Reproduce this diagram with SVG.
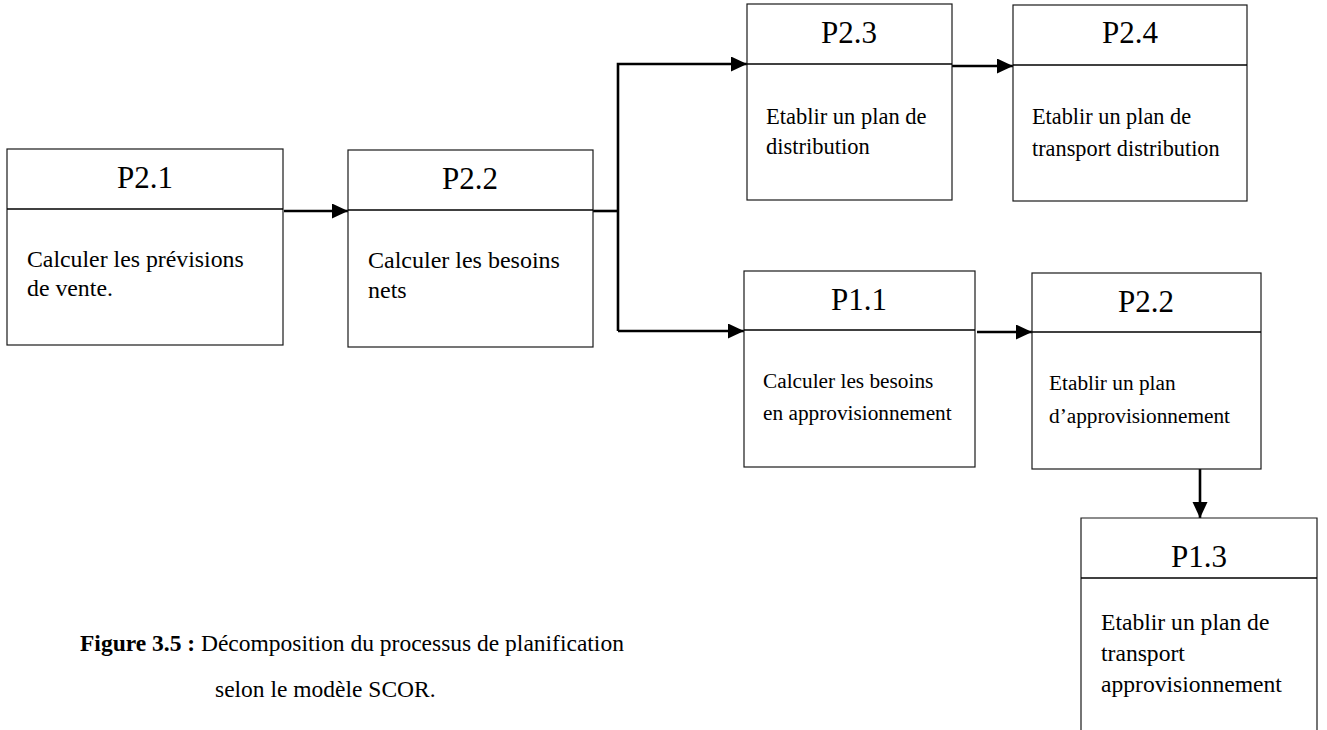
<svg xmlns="http://www.w3.org/2000/svg" width="1327" height="730" viewBox="0 0 1327 730">
  <style>
    .box { fill: #ffffff; stroke: #1a1a1a; stroke-width: 1.2; }
    .div { stroke: #000000; stroke-width: 1.4; }
    .title { font-family: "Liberation Serif", "Times New Roman", serif; font-size: 31px; fill: #000; text-anchor: middle; }
    .body { font-family: "Liberation Serif", "Times New Roman", serif; font-size: 22.5px; fill: #000; }
    .cap { font-family: "Liberation Serif", "Times New Roman", serif; font-size: 23.5px; fill: #000; }
    .link { fill: none; stroke: #000; stroke-width: 2.6; }
  </style>
  <defs>
    <marker id="arrow" markerUnits="userSpaceOnUse" markerWidth="17" markerHeight="16" refX="16" refY="7.5" orient="auto">
      <path d="M0,0 L16,7.5 L0,15 z" fill="#000"/>
    </marker>
  </defs>
  <rect width="1327" height="730" fill="#ffffff"/>

  <g id="connectors">
    <line class="link" x1="284" y1="211" x2="348" y2="211" marker-end="url(#arrow)"/>
    <polyline class="link" points="593,211 618,211"/>
    <polyline class="link" points="618,331 618,64 747,64" marker-end="url(#arrow)"/>
    <polyline class="link" points="618,331 744,331" marker-end="url(#arrow)"/>
    <line class="link" x1="952" y1="66" x2="1013" y2="66" marker-end="url(#arrow)"/>
    <line class="link" x1="977" y1="332" x2="1032" y2="332" marker-end="url(#arrow)"/>
    <line class="link" x1="1200" y1="469" x2="1200" y2="518" marker-end="url(#arrow)"/>
  </g>

  <g id="p21">
    <rect class="box" x="7" y="149" width="276" height="196"/>
    <line class="div" x1="7" y1="209" x2="283" y2="209"/>
    <text class="title" x="145" y="188">P2.1</text>
    <text class="body" x="27" y="267" style="font-size:23.8px">Calculer les prévisions</text>
    <text class="body" x="27" y="296" style="font-size:23.8px">de vente.</text>
  </g>

  <g id="p22">
    <rect class="box" x="348" y="150" width="245" height="197"/>
    <line class="div" x1="348" y1="210" x2="593" y2="210"/>
    <text class="title" x="470" y="189">P2.2</text>
    <text class="body" x="368" y="268" style="font-size:24px">Calculer les besoins</text>
    <text class="body" x="368" y="298" style="font-size:24px">nets</text>
  </g>

  <g id="p23">
    <rect class="box" x="747" y="4" width="205" height="196"/>
    <line class="div" x1="747" y1="64" x2="952" y2="64"/>
    <text class="title" x="849" y="43">P2.3</text>
    <text class="body" x="766" y="124">Etablir un plan de</text>
    <text class="body" x="766" y="154">distribution</text>
  </g>

  <g id="p24">
    <rect class="box" x="1013" y="5" width="234" height="196"/>
    <line class="div" x1="1013" y1="65" x2="1247" y2="65"/>
    <text class="title" x="1130" y="43">P2.4</text>
    <text class="body" x="1032" y="124" style="font-size:22.3px">Etablir un plan de</text>
    <text class="body" x="1032" y="156" style="font-size:22.3px">transport distribution</text>
  </g>

  <g id="p11">
    <rect class="box" x="744" y="271" width="231" height="196"/>
    <line class="div" x1="744" y1="330" x2="975" y2="330"/>
    <text class="title" x="859" y="310">P1.1</text>
    <text class="body" x="763" y="388" style="font-size:21.3px">Calculer les besoins</text>
    <text class="body" x="763" y="420" style="font-size:21.3px">en approvisionnement</text>
  </g>

  <g id="p22b">
    <rect class="box" x="1032" y="273" width="229" height="196"/>
    <line class="div" x1="1032" y1="332" x2="1261" y2="332"/>
    <text class="title" x="1146" y="312">P2.2</text>
    <text class="body" x="1049" y="390" style="font-size:21.3px">Etablir un plan</text>
    <text class="body" x="1049" y="423" style="font-size:21.3px">d’approvisionnement</text>
  </g>

  <g id="p13">
    <path class="box" d="M1081,731 V518 H1317 V731"/>
    <line class="div" x1="1081" y1="578" x2="1317" y2="578"/>
    <text class="title" x="1199" y="567">P1.3</text>
    <text class="body" x="1101" y="630" style="font-size:23.6px">Etablir un plan de</text>
    <text class="body" x="1101" y="661" style="font-size:23.6px">transport</text>
    <text class="body" x="1101" y="692" style="font-size:23.6px">approvisionnement</text>
  </g>

  <g id="caption">
    <text class="cap" x="80" y="651"><tspan font-weight="bold">Figure 3.5 :</tspan> Décomposition du processus de planification</text>
    <text class="cap" x="215" y="697">selon le modèle SCOR.</text>
  </g>
</svg>
